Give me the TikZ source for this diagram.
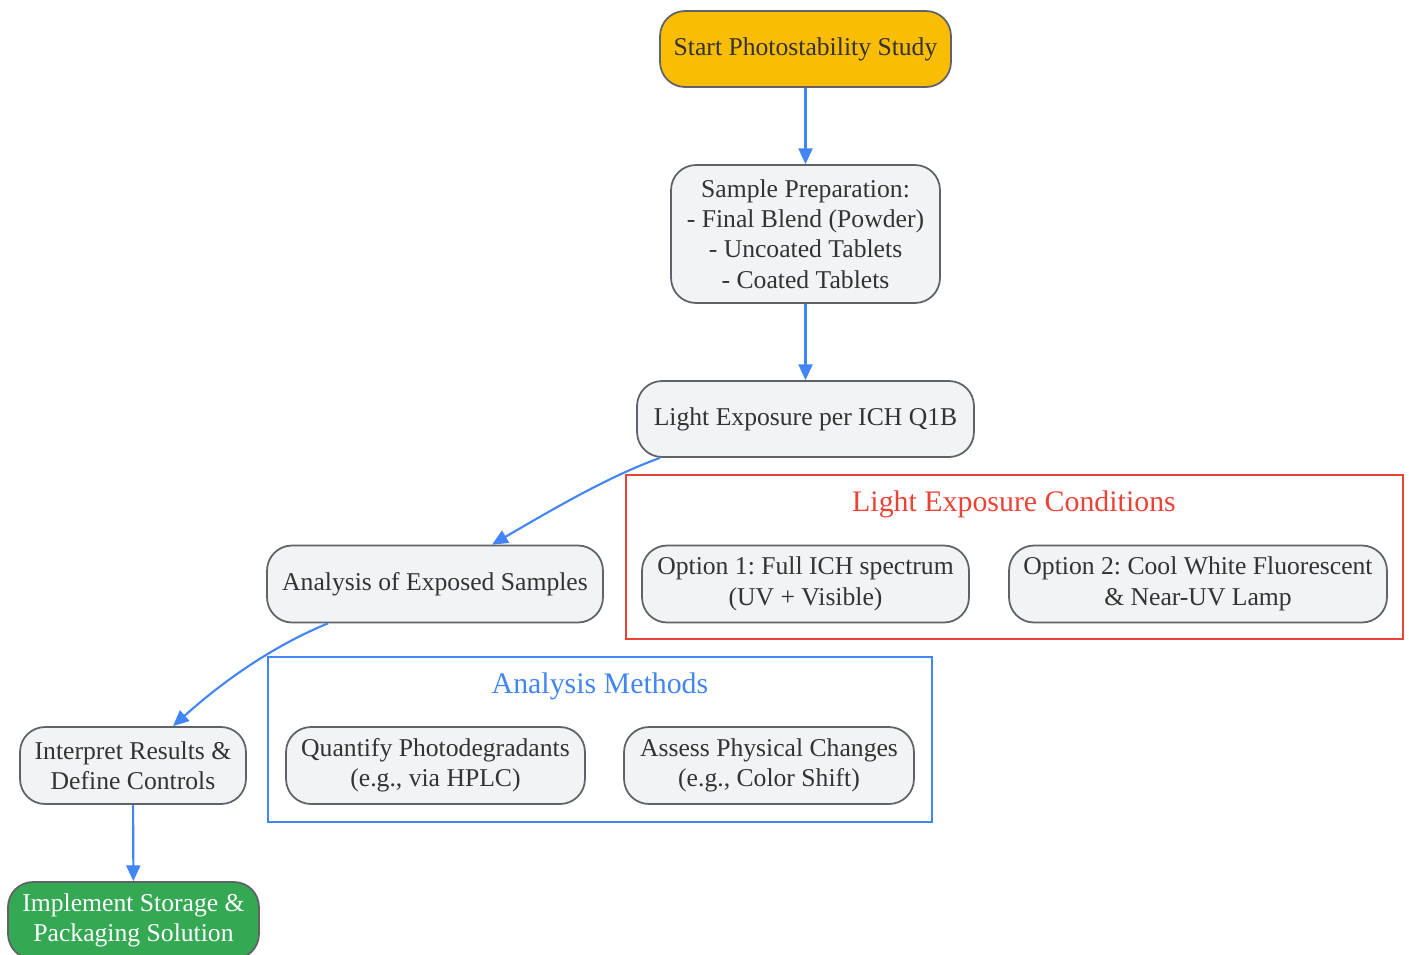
\documentclass[tikz,border=0pt]{standalone}
\usepackage{fontspec}
\setmainfont{Liberation Serif}
\usepackage{tikz}
\usetikzlibrary{arrows.meta}
\usetikzlibrary{calc}
\usetikzlibrary{positioning}
\definecolor{startyellow}{HTML}{FBBC04}
\definecolor{endgreen}{HTML}{34A853}
\definecolor{boxgray}{HTML}{F1F3F4}
\definecolor{edgegray}{HTML}{5F6368}
\definecolor{flowblue}{HTML}{4285F4}
\definecolor{groupred}{HTML}{EA4335}
\definecolor{txt}{HTML}{333333}
\frenchspacing

\begin{document}
\begin{tikzpicture}[x=0.02cm, y=-0.02cm,
    every node/.style={font=\fontsize{14.6}{17.3}\selectfont, text=txt, align=center},
    stepbox/.style={draw=edgegray, line width=1pt, fill=boxgray, rounded corners=0.5cm,
      minimum height=1.54cm, inner sep=0pt},
    groupbox/.style={draw, line width=1pt, inner sep=0pt},
    grouptitle/.style={font=\fontsize{17}{20}\selectfont},
    flow/.style={draw=flowblue, line width=1.2pt, -{Triangle[length=9pt, width=8pt]}}]
    \useasboundingbox (0,0) rectangle (1409,954);
    % groups
    \node[groupbox, draw=groupred, minimum width=15.54cm, minimum height=3.28cm] (G1) at (1014.5,557) {};
    \node[grouptitle, text=groupred] (G1t) at (1014,504) {Light Exposure Conditions};
    \node[groupbox, draw=flowblue, minimum width=13.28cm, minimum height=3.30cm] (G2) at (600,739.5) {};
    \node[grouptitle, text=flowblue] (G2t) at (600,686) {Analysis Methods};
    % main nodes
    \node[stepbox, fill=startyellow, minimum width=5.82cm, minimum height=1.52cm] (A) at (805.5,49) {Start Photostability Study};
    \node[stepbox, minimum width=5.38cm, minimum height=2.76cm] (B) at (805.5,234) {Sample Preparation:\\- Final Blend (Powder)\\- Uncoated Tablets\\- Coated Tablets};
    \node[stepbox, minimum width=6.74cm, minimum height=1.52cm] (C) at (805.5,419) {Light Exposure per ICH Q1B};
    \node[stepbox, minimum width=6.72cm] (D) at (435,584) {Analysis of Exposed Samples};
    \node[stepbox, minimum width=6.54cm] (O1) at (805.5,584) {Option 1: Full ICH spectrum\\(UV + Visible)};
    \node[stepbox, minimum width=7.56cm] (O2) at (1198,584) {Option 2: Cool White Fluorescent\\\& Near-UV Lamp};
    \node[stepbox, minimum width=4.52cm] (E) at (133,765.5) {Interpret Results \&\\Define Controls};
    \node[stepbox, minimum width=5.98cm] (M1) at (435.5,765.5) {Quantify Photodegradants\\(e.g., via HPLC)};
    \node[stepbox, minimum width=5.80cm] (M2) at (769,765.5) {Assess Physical Changes\\(e.g., Color Shift)};
    \node[stepbox, fill=endgreen, text=white, minimum width=5.02cm] (F) at (133.5,920.5) {Implement Storage \&\\Packaging Solution};
    % connectors
    \draw [flow] (A) -- (B);
    \draw [flow] (B) -- (C);
    \draw [flow] (C.south -| 660,0) .. controls (610,476) and (560,505) .. (D.north -| 492,0);
    \draw [flow] (D.south -| 328,0) .. controls (280,643) and (230,675) .. (E.north -| 173,0);
    \draw [flow] (E) -- (F);
  \end{tikzpicture}
\end{document}
